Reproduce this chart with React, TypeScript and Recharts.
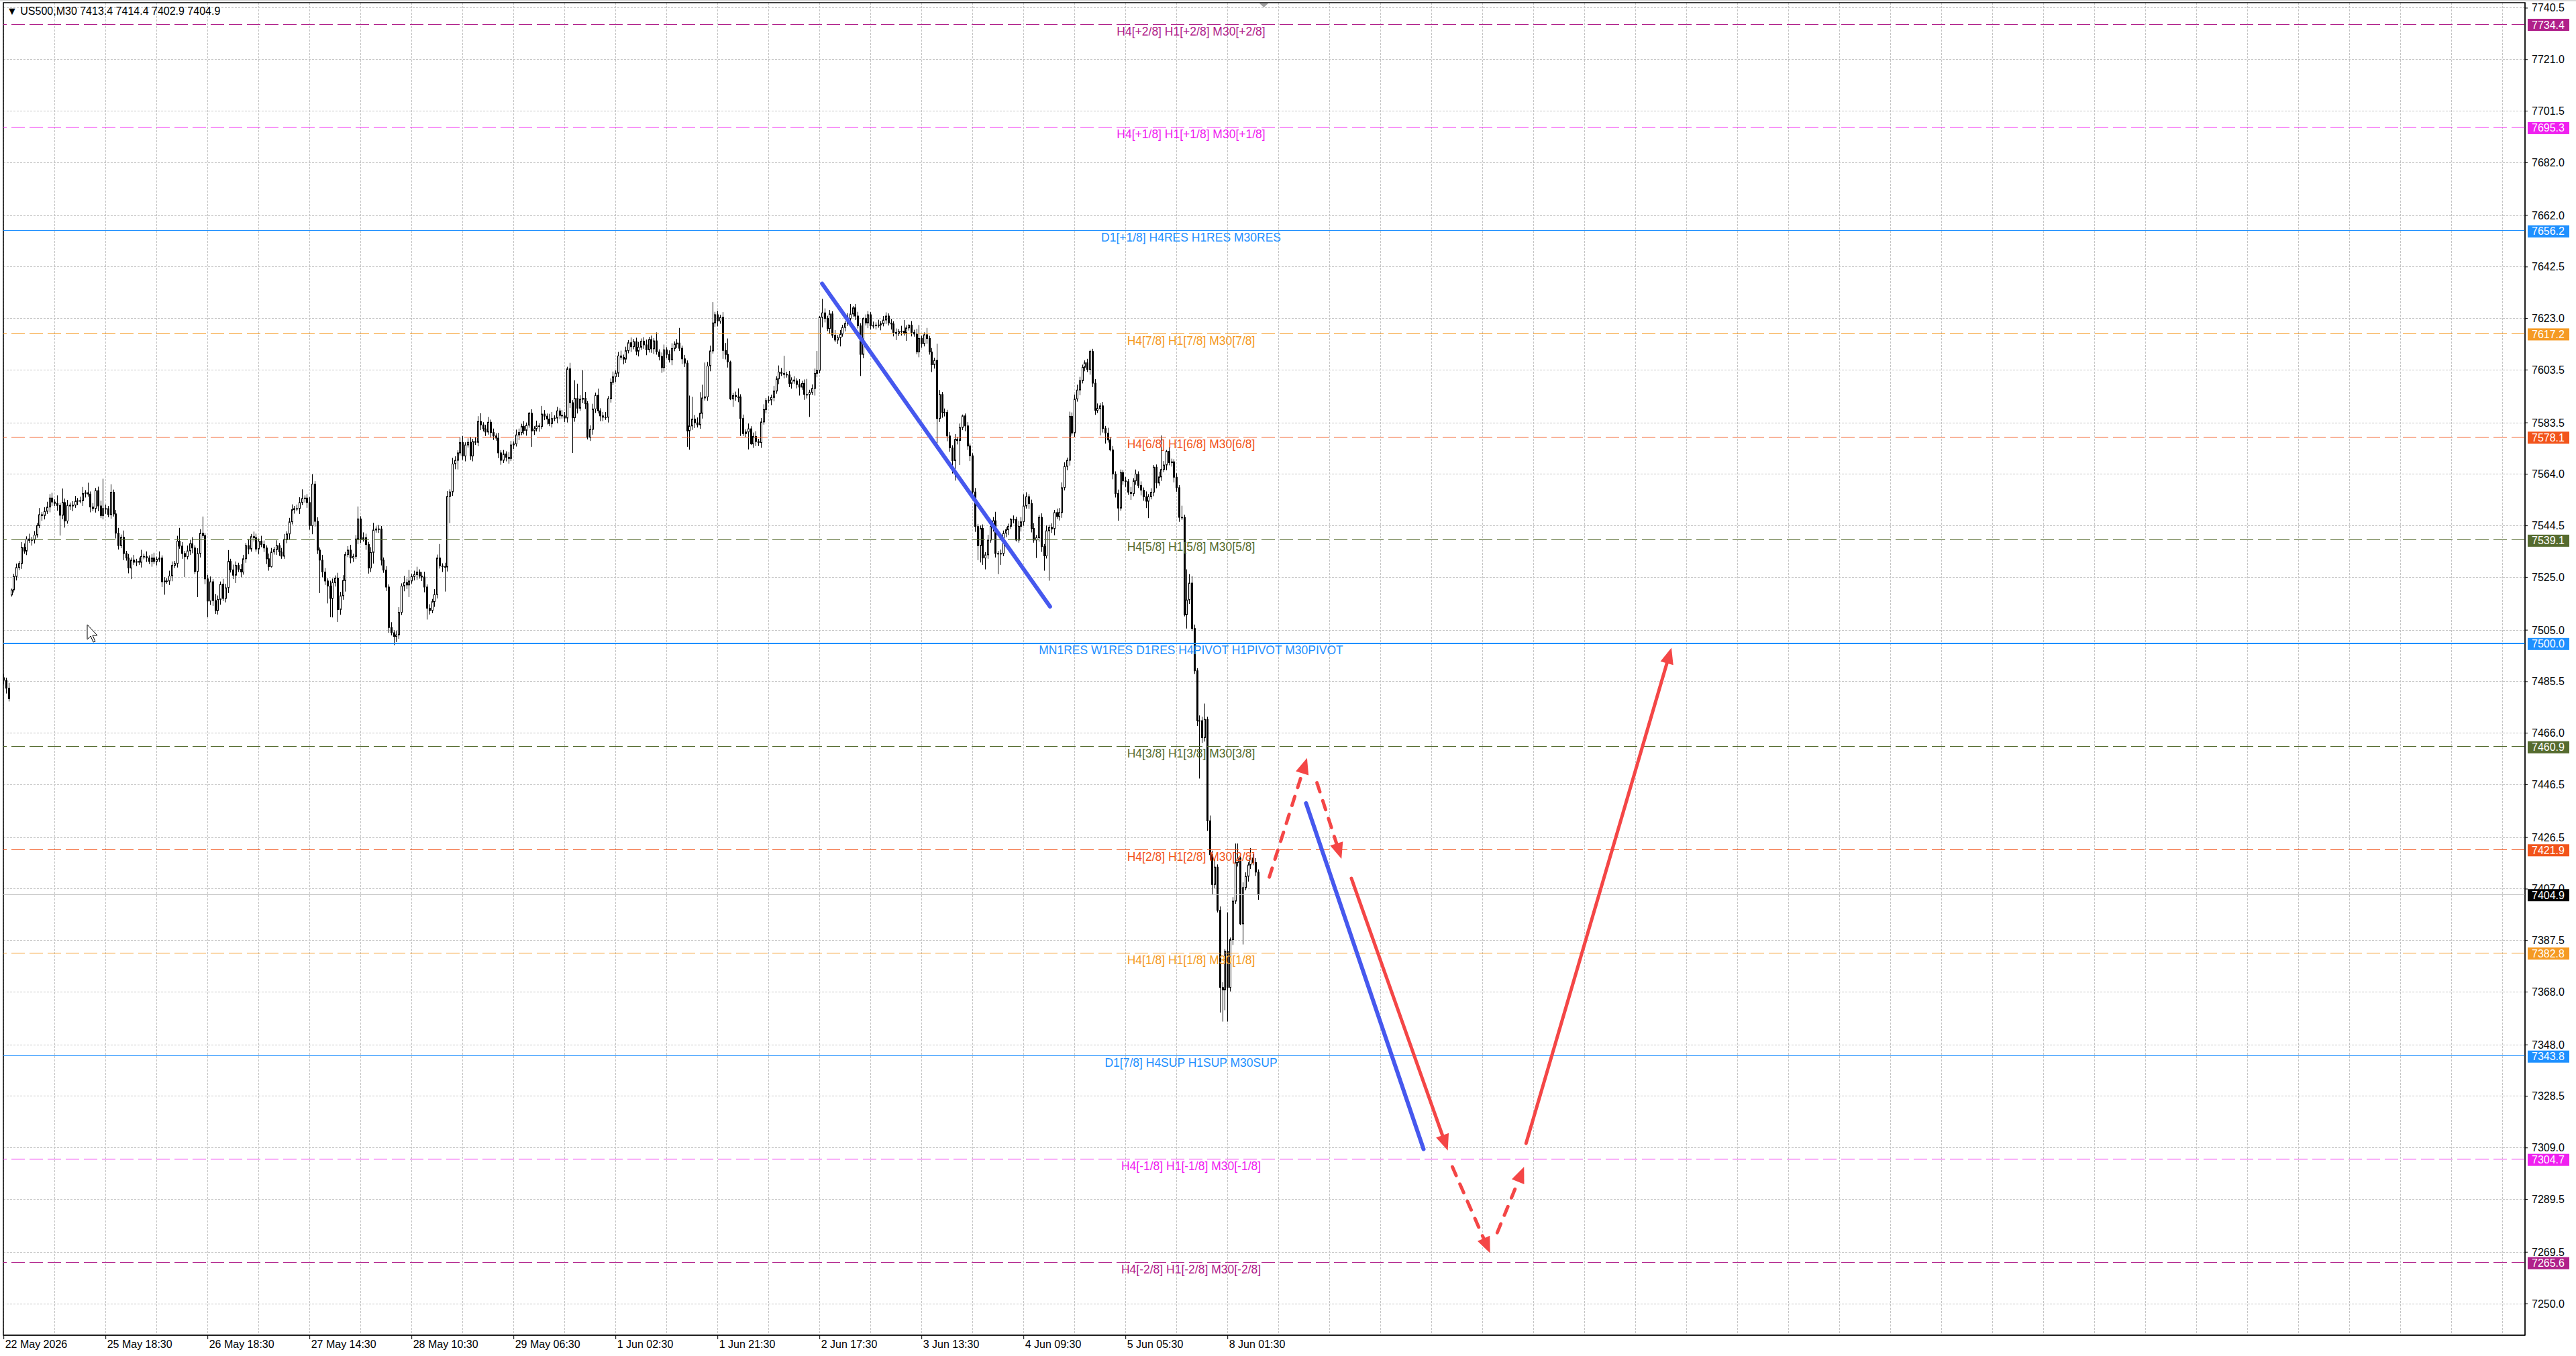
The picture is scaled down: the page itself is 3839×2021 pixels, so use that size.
import {
  Bar,
  CartesianGrid,
  ComposedChart,
  ReferenceArea,
  ReferenceLine,
  XAxis,
  YAxis,
} from "recharts";

const WIDTH = 3839;
const HEIGHT = 2021;
const FONT = "'Liberation Sans', Arial, 'DejaVu Sans', sans-serif";

// US500 M30 closes, one per bar, oldest first
const CLOSE = [
  7486, 7483, 7479, 7520.2, 7525.3, 7528.7, 7530.2, 7536.3, 7534.9, 7539.5,
  7539, 7539.3, 7541, 7544.6, 7548.7, 7548.4, 7550, 7551.6, 7555, 7553.5,
  7553, 7552.2, 7548.5, 7553.3, 7546.3, 7552.3, 7552, 7552.3, 7553.8, 7554,
  7554, 7556.7, 7557, 7556.5, 7551.6, 7551, 7557.8, 7552, 7548.4, 7551,
  7551, 7548.7, 7557.2, 7549, 7541.7, 7537, 7540.2, 7534, 7532.3, 7528.5,
  7531.5, 7530.7, 7531, 7530.7, 7532.9, 7532.8, 7532.3, 7531, 7532.3, 7531,
  7531.8, 7532.3, 7523.3, 7523.6, 7523.6, 7525.5, 7529.5, 7530.2, 7538.7, 7536.8,
  7534, 7532.8, 7535, 7537.7, 7536.1, 7527.2, 7534, 7541.7, 7540.8, 7524.4,
  7516, 7523.3, 7516.2, 7512.4, 7516.6, 7522.4, 7517, 7521, 7531, 7527.8,
  7525.8, 7529.5, 7528, 7527, 7532, 7537, 7535.7, 7540.4, 7540, 7535.7,
  7538.7, 7537.4, 7536.1, 7532, 7529, 7534.6, 7535.5, 7537, 7534.6, 7533,
  7539.4, 7541.4, 7546, 7550.6, 7551, 7551, 7553.3, 7554.8, 7555, 7553.3,
  7544.5, 7560.3, 7546.2, 7535.3, 7531.5, 7527, 7523.6, 7521.7, 7517, 7523,
  7524.7, 7512.8, 7518, 7523.8, 7533.6, 7535.3, 7532.3, 7532.9, 7539.5, 7547.1,
  7539.5, 7540, 7537.4, 7528.5, 7534.4, 7542.9, 7543.3, 7543.3, 7531.5, 7527.7,
  7521.3, 7506, 7504, 7502.6, 7503.2, 7511.7, 7521.7, 7523, 7522.1, 7523.6,
  7525.3, 7526, 7527, 7525.5, 7525.1, 7521.3, 7513.3, 7512.4, 7515.8, 7518.5,
  7532.3, 7529.3, 7529, 7528.9, 7555.6, 7557.3, 7567.9, 7569.3, 7572.1, 7576,
  7570.9, 7575.1, 7576.1, 7570.9, 7576.4, 7576.1, 7584, 7582.7, 7581.2, 7580,
  7583.7, 7579.8, 7578.5, 7577.7, 7572.1, 7569.3, 7571.7, 7570.4, 7570, 7575.1,
  7575.5, 7578.9, 7579.8, 7582.1, 7580.6, 7582.6, 7587.1, 7580.4, 7581.2, 7582.3,
  7582.1, 7586.8, 7586, 7584.9, 7583.2, 7585.1, 7585.3, 7588, 7586.3, 7586.1,
  7585.3, 7603.9, 7591.1, 7585.4, 7592.7, 7589, 7592.4, 7592.8, 7590.7, 7578,
  7581, 7588.7, 7593.9, 7588, 7586.1, 7585.6, 7585.6, 7592.6, 7598.8, 7600.9,
  7602.3, 7608.8, 7608.3, 7607.6, 7610.8, 7613.8, 7612.3, 7614.2, 7610.6, 7612.1,
  7614.4, 7613, 7611.1, 7615, 7611.5, 7614.5, 7610.3, 7608.6, 7604.4, 7611.1,
  7609.4, 7607.3, 7611.6, 7613.3, 7613.7, 7611.7, 7607.7, 7606.1, 7580.4, 7582.3,
  7584.9, 7583.5, 7582.7, 7587.1, 7592.9, 7593.3, 7605, 7610.7, 7621.3, 7624.4,
  7622, 7623.4, 7610.9, 7609.4, 7606.5, 7592.5, 7593.8, 7593.3, 7593.3, 7585.1,
  7579.4, 7580, 7581.2, 7575.5, 7578.3, 7576.4, 7576, 7583.8, 7588.5, 7591.9,
  7592.1, 7593.1, 7595.5, 7600.1, 7602.7, 7602.2, 7601.8, 7601.6, 7598.4, 7599.7,
  7599.3, 7598, 7597, 7598.4, 7594.2, 7594.2, 7595, 7596.5, 7602.2, 7603.3,
  7623.4, 7625.1, 7623, 7619.2, 7624.7, 7616.6, 7614.8, 7615.7, 7617.1, 7619.6,
  7621.1, 7623, 7624.7, 7627, 7623.9, 7620.2, 7609.4, 7623, 7621.3, 7624.4,
  7620.2, 7620.3, 7620.5, 7620.5, 7621, 7622.4, 7623.9, 7621.3, 7620.9, 7617.7,
  7617.3, 7618, 7618.2, 7617.5, 7619.4, 7620.5, 7617.7, 7617.1, 7610.3, 7615.4,
  7613.4, 7616.8, 7615.4, 7610.3, 7605.5, 7607.1, 7585.1, 7594.2, 7587.4, 7587.4,
  7578.5, 7574, 7569.2, 7577.2, 7576.8, 7581.7, 7586.1, 7582.3, 7574.7, 7571,
  7557.3, 7544.2, 7537, 7543.5, 7532.3, 7533.5, 7539.1, 7544.3, 7546.4, 7534,
  7534, 7534, 7541.7, 7543, 7544.3, 7546.9, 7546.9, 7539.1, 7544.3, 7546,
  7552, 7555.5, 7552.9, 7543.5, 7539.1, 7540, 7547.7, 7536.6, 7533.1, 7542.6,
  7543.9, 7543.3, 7549.5, 7548, 7549.5, 7558.9, 7567, 7569.3, 7585.9, 7579.6,
  7592.5, 7595.9, 7599.4, 7604.5, 7606.2, 7603.7, 7610.5, 7598.5, 7588.2, 7588.9,
  7589.9, 7581.3, 7579.6, 7577, 7573.2, 7564.1, 7556.7, 7551.2, 7564.6, 7561.5,
  7561.2, 7557.2, 7556.7, 7561.5, 7564.1, 7559.8, 7558, 7555.5, 7553.8, 7555.5,
  7557.2, 7566.7, 7560.7, 7563, 7565.8, 7567.5, 7572.7, 7568.4, 7568.7, 7562.9,
  7558.9, 7547.7, 7547.7, 7510.8, 7516.4, 7522.8, 7505.6, 7489.6, 7470.7, 7470.7,
  7464.3, 7471.2, 7432.8, 7420, 7408.7, 7415.3, 7398.9, 7369.7, 7368.8, 7383.5,
  7369.7, 7387.8, 7402.4, 7417, 7418.7, 7393.8, 7407.5, 7411.8, 7416.1, 7418.7,
  7417, 7413.4, 7404.9,
];

// wick length above the body, in points
const WICK_UP = [
  1.5, 1, 2, 0.5, 1, 1.5, 1, 2, 1.5, 1,
  2, 1, 1.5, 1, 2.5, 1, 1.5, 2, 1.5, 2,
  1, 3, 1, 5.3, 1.5, 2, 1, 1.5, 2, 1,
  1.5, 2.5, 1, 3.8, 1, 1.5, 1, 1.5, 2, 11.3,
  1.5, 1, 3, 1, 1.5, 2, 1, 2.5, 1, 1.5,
  1, 2, 1, 1.5, 2.5, 1, 2, 1, 1.5, 2,
  1, 2.5, 1, 1.5, 1, 2, 1.5, 1, 2, 5,
  1.5, 1, 2, 1.5, 2.5, 1, 2, 1.5, 6.3, 1,
  1.5, 2, 1, 2.5, 1.5, 1, 2, 1.5, 4.3, 1,
  2, 1.5, 1, 2, 1.5, 1, 2.5, 1, 1.9, 1.5,
  1, 2, 1.5, 1, 2, 1.5, 1, 2, 1, 1.5,
  2, 1, 1.5, 2, 1, 1.5, 2, 3.5, 1, 1.5,
  2, 3.7, 1.1, 1.5, 1, 2, 1.5, 1, 2, 1.5,
  1, 2, 1.5, 2, 1, 1.5, 2, 1, 1.5, 4.7,
  1, 2, 1.5, 1, 2, 2.7, 1, 1.5, 1.1, 1,
  1.5, 1, 2, 1, 1.5, 2, 1, 2.5, 1.5, 4.2,
  1, 1.5, 2, 1, 1.5, 2, 1, 1.5, 1, 2,
  1.3, 5.3, 1, 1.5, 2, 1, 2.3, 1.5, 1, 2,
  2.5, 1, 1.5, 2, 1, 1.5, 2, 3.1, 1, 1.5,
  2, 1, 1.5, 1, 2, 1, 1.5, 1, 2, 1.5,
  1, 2, 1.5, 1, 2, 1, 0.5, 1.5, 1, 2,
  1, 3.1, 1.5, 1, 2, 2.5, 1, 1.5, 1, 2,
  1.5, 0.8, 2.3, 1, 6.9, 5.6, 1.5, 10.6, 2.4, 1,
  1.5, 2, 1, 2.5, 1, 1.5, 2, 1, 1.5, 2,
  1, 1.5, 2, 1, 1.5, 1, 2, 1, 1.5, 2,
  1, 1.5, 2, 1, 1.5, 1, 3.2, 1, 1.5, 2,
  1, 1.5, 2, 1, 1.5, 5.7, 1, 1.5, 1, 11.5,
  8.4, 1.5, 2, 8, 5, 13, 1.5, 2, 7.9, 1.1,
  1.5, 1, 2, 2.8, 6, 0.5, 1, 1.5, 3.2, 1,
  1.5, 1, 2, 1, 1.5, 2, 1, 1.5, 2, 1,
  1.5, 1, 2, 1, 2.5, 1.5, 6.6, 1, 1.5, 1,
  1.4, 1, 2, 1, 1.5, 5.9, 1, 1.5, 1.8, 7.4,
  0.5, 5.3, 1.7, 1, 1.5, 1, 2, 1, 1.5, 1,
  1, 2, 3.8, 0.7, 1.5, 1.6, 1, 0.3, 1.5, 1.4,
  1, 1.5, 1, 2, 1, 1.5, 1.4, 1, 1.5, 1,
  1.5, 1, 2, 4.2, 1, 0.2, 1.5, 1, 2, 5.1,
  1, 0.9, 2.6, 1, 1.5, 1, 6.3, 1.7, 1, 1.5,
  1, 1.5, 1, 2, 1, 1.5, 0.5, 0.9, 1.5, 1,
  1, 1.5, 1, 1.1, 1.5, 1, 2, 1, 1.4, 3.4,
  1, 1.5, 1, 1, 1, 0.5, 1.5, 1, 2, 1.8,
  4.4, 1.7, 1, 1.5, 2, 1, 0.9, 1.5, 1, 2,
  1, 1.5, 1, 1.5, 1.7, 2, 1.5, 1, 1.8, 1.5,
  1.7, 2, 1.5, 1, 0.9, 1.5, 0.6, 1, 1.5, 1.9,
  1, 1.5, 1, 2, 1, 1.5, 1, 1.5, 1.2, 1,
  1.5, 1, 2, 1, 1.7, 1, 1.5, 1, 2, 1,
  1.5, 0.8, 1, 2, 12.9, 1.5, 0.5, 1.5, 1.2, 1,
  1.5, 1, 4.4, 1, 11.6, 3.4, 2.6, 1.5, 1, 2,
  1.5, 6, 1, 2, 1.5, 3, 1, 1.5, 2, 0.8,
  14.6, 0.8, 1.5, 7.2, 5.5, 1, 2, 1.5, 1, 3.8,
  1.5, 1.7, 1.0,
];

// wick length below the body, in points
const WICK_DOWN = [
  1.5, 2, 1, 0.6, 1, 1.5, 1, 2, 1, 1.5,
  1, 2, 1.5, 1, 1, 2, 1.5, 1, 2, 1.5,
  1, 2, 7.7, 1.5, 2.5, 1, 1.5, 2, 1, 1.5,
  1, 2, 1.5, 1, 2, 1, 1.5, 2, 1, 1.5,
  2, 1, 1.5, 1, 2, 1.5, 1, 2.5, 1, 2,
  4.2, 1, 1.5, 1, 2, 1, 1.5, 1, 2, 1,
  1.5, 1, 2, 4.9, 1, 1.5, 2, 1, 1.5, 1,
  2, 7.7, 1, 1.5, 2, 1, 9.7, 1.5, 1, 2,
  6.1, 1.5, 2, 1.3, 1.5, 2, 1, 1.5, 2, 1,
  1.5, 3, 1, 2, 1, 1.5, 2, 1, 1.5, 1,
  2, 1, 1.5, 2, 1.5, 0.3, 1, 2, 1.5, 1,
  1, 1.5, 2, 1, 1.5, 1, 2, 1, 1.5, 2,
  1.5, 3.2, 2, 1.5, 12.5, 2, 1.5, 6.6, 7.1, 7.2,
  1.5, 4.7, 2, 1.5, 4.2, 1, 2, 1.5, 1, 2,
  1.5, 1, 2, 2.1, 1.5, 4.2, 1, 1.5, 2, 1,
  1.5, 2, 1, 3.3, 2.1, 1.5, 1, 2, 1.5, 4.6,
  1, 1.5, 2, 1, 1.5, 2, 4.3, 1.5, 1, 2,
  1.5, 1, 2, 9.3, 1.7, 10.1, 1.5, 2, 3.5, 1,
  1.5, 2, 1, 1.5, 2, 1, 1.5, 2, 1, 1.5,
  1, 2, 1.5, 1, 2, 1.7, 1, 1.5, 2, 1,
  1.5, 1, 2, 1, 1.5, 2, 1, 6, 1.5, 1,
  2, 1, 1.5, 2, 1, 1.5, 1, 2, 1.5, 1,
  1.5, 1.7, 2, 13.3, 1.5, 2, 1, 1.5, 2, 0.8,
  1.4, 2, 1.5, 1, 2, 1.5, 1, 2, 1.5, 1,
  2, 1.5, 1, 2, 1.5, 1, 2, 1, 1.5, 2,
  1, 1.5, 2, 1, 1.5, 2, 1, 1.5, 2, 1.5,
  1.5, 1, 2, 1, 1.5, 1, 2, 1.5, 6, 7.1,
  1.5, 2, 1, 1.5, 2, 1, 1.5, 2, 1, 1.5,
  2, 1, 3.2, 1.9, 2.1, 0.4, 3, 1.5, 2, 6.6,
  0.9, 1.5, 6.6, 0.4, 1.5, 1.7, 1.3, 2, 1, 1.5,
  1, 2, 1.5, 1, 2, 1, 1.5, 1, 1.4, 2,
  1, 1.5, 3.2, 1, 2, 1.5, 8.5, 1, 2.7, 1.5,
  1, 3.8, 1.5, 1, 2, 1, 0.8, 1.5, 3.3, 1,
  1.5, 1, 2, 1, 1.5, 1, 8.2, 1.5, 1, 2,
  1.4, 1, 1.5, 1, 2, 1, 1.5, 1, 2.1, 1.5,
  2.5, 1, 1.5, 1, 3, 1, 1.5, 1, 0.9, 2,
  1.5, 1, 2, 1, 2.8, 1.5, 9.6, 1.3, 2, 1.5,
  2, 1.5, 4.9, 7.6, 1.5, 9.3, 1, 2, 1.5, 2,
  1.5, 2, 5.5, 6.4, 2.6, 4.3, 1.5, 1, 2, 1.5,
  7.8, 4.3, 1, 1.5, 2, 1, 1.5, 0.5, 1, 2,
  1.5, 1, 2, 1.5, 1, 6.8, 1.5, 2, 5.6, 1,
  18.9, 1.5, 2.4, 1, 1.5, 2, 1, 1.5, 2, 1,
  1.5, 1, 2, 1, 1.5, 1, 2, 1.5, 1.7, 1,
  10.2, 1.5, 4, 1, 0.5, 2, 1.5, 4.8, 1, 1.5,
  2, 1, 2.4, 1, 1.5, 1, 2, 1.5, 2.6, 6.4,
  1, 1.5, 2, 1, 1.5, 1, 2, 1, 1.5, 2,
  1.5, 1.7, 1, 0.6, 5.2, 1.5, 0.9, 1.2, 2, 21.9,
  2, 1.5, 3.8, 2, 3.7, 1.5, 0.8, 9.5, 12, 7.7,
  12.9, 1.5, 2, 1, 1.5, 0.5, 7.8, 1, 2, 1.5,
  1, 1.5, 2,
];

// bars whose open is not the previous close (session gaps)
const GAP_OPEN: Record<number, number> = { 0: 7487, 3: 7518.3 };

const HEADER = "\u25BC US500,M30  7413.4 7414.4 7402.9 7404.9";
const BID = 7404.9;

const X_TICK_BARS = [0, 40, 80, 120, 160, 200, 240, 280, 320, 360, 400, 440, 480];
const X_TICK_LABELS = [
  "22 May 2026",
  "25 May 18:30",
  "26 May 18:30",
  "27 May 14:30",
  "28 May 10:30",
  "29 May 06:30",
  "1 Jun 02:30",
  "1 Jun 21:30",
  "2 Jun 17:30",
  "3 Jun 13:30",
  "4 Jun 09:30",
  "5 Jun 05:30",
  "8 Jun 01:30",
];
const GRID_BARS = [
  0, 20, 40, 60, 80, 100, 120, 140, 160, 180, 200, 220, 240, 260, 280, 300, 320, 340,
  360, 380, 400, 420, 440, 460, 480, 500, 520, 540, 560, 580, 600, 620, 640, 660, 680,
  700, 720, 740, 760, 780, 800, 820, 840, 860, 880, 900, 920, 940, 960, 980,
];
const PRICE_TICKS = [
  7740.5, 7721.0, 7701.5, 7682.0, 7662.0, 7642.5, 7623.0, 7603.5, 7583.5, 7564.0, 7544.5,
  7525.0, 7505.0, 7485.5, 7466.0, 7446.5, 7426.5, 7407.0, 7387.5, 7368.0, 7348.0, 7328.5,
  7309.0, 7289.5, 7269.5, 7250.0,
];

// Murrey math levels drawn on the chart
const LEVEL_PRICES = [
  7734.4, 7695.3, 7656.2, 7617.2, 7578.1, 7539.1, 7500.0, 7460.9, 7421.9, 7382.8, 7343.8,
  7304.7, 7265.6,
];
const LEVEL_NAMES = [
  "H4[+2/8] H1[+2/8] M30[+2/8]",
  "H4[+1/8] H1[+1/8] M30[+1/8]",
  "D1[+1/8] H4RES H1RES M30RES",
  "H4[7/8] H1[7/8] M30[7/8]",
  "H4[6/8] H1[6/8] M30[6/8]",
  "H4[5/8] H1[5/8] M30[5/8]",
  "MN1RES W1RES D1RES H4PIVOT H1PIVOT M30PIVOT",
  "H4[3/8] H1[3/8] M30[3/8]",
  "H4[2/8] H1[2/8] M30[2/8]",
  "H4[1/8] H1[1/8] M30[1/8]",
  "D1[7/8] H4SUP H1SUP M30SUP",
  "H4[-1/8] H1[-1/8] M30[-1/8]",
  "H4[-2/8] H1[-2/8] M30[-2/8]",
];

// hand-drawn trend lines (bar index, price)
const TREND_FROM_BAR = [320.9, 510.7];
const TREND_FROM_PRICE = [7636.2, 7439.5];
const TREND_TO_BAR = [410.3, 556.8];
const TREND_TO_PRICE = [7513.9, 7308.5];

// projected path arrows; main legs are solid, minor legs dashed
const LEG_FROM_BAR = [496.3, 515.0, 528.5, 568.1, 585.7, 597.0];
const LEG_FROM_PRICE = [7411.5, 7447.2, 7411.0, 7301.8, 7276.9, 7310.7];
const LEG_TO_BAR = [511.1, 524.6, 566.3, 582.9, 596.2, 654.0];
const LEG_TO_PRICE = [7456.6, 7418.4, 7308.0, 7269.1, 7301.8, 7498.3];
const LEG_MAIN = [false, false, true, false, false, true];

const X_DOMAIN: [number, number] = [-0.18, 988.76];
const Y_DOMAIN: [number, number] = [7238.07, 7742.53];

const RED = "#f44646";
const BLUE = "#4658ee";

const rows = CLOSE.map((c, i) => {
  const o = GAP_OPEN[i] ?? CLOSE[i - 1];
  const hi = Math.max(o, c) + WICK_UP[i];
  const lo = Math.min(o, c) - WICK_DOWN[i];
  return { i, o, c, hi, lo, range: [lo, hi] };
});

function levelStyle(name: string) {
  if (name.includes("PIVOT")) return { color: "#1e90ff", width: 2, dash: undefined };
  if (name.includes("RES") || name.includes("SUP"))
    return { color: "#1e90ff", width: 1, dash: undefined };
  const m = name.match(/\[([+-]?\d)\/8\]/);
  const key = m ? m[1] : "";
  const palette: Record<string, string> = {
    "+2": "#b0208a",
    "-2": "#b0208a",
    "+1": "#f020f0",
    "-1": "#f020f0",
    "7": "#f59a23",
    "1": "#f59a23",
    "6": "#f2541b",
    "2": "#f2541b",
    "5": "#556b2f",
    "3": "#556b2f",
  };
  return { color: palette[key] ?? "#888", width: 1, dash: "20 7" };
}

function Candle(props: any) {
  const { x, y, width, height, payload } = props;
  if (!payload || !Number.isFinite(x) || !Number.isFinite(y)) return null;
  const cx = Math.round(x + width / 2) + 0.5;
  const top = Math.min(y, y + height);
  const bot = Math.max(y, y + height);
  const k = (bot - top) / (payload.hi - payload.lo);
  const yOf = (v: number) => top + (payload.hi - v) * k;
  const yo = yOf(payload.o);
  const yc = yOf(payload.c);
  const bull = payload.c >= payload.o;
  const bt = Math.min(yo, yc);
  const bb = Math.max(yo, yc);
  return (
    <g>
      <line x1={cx} x2={cx} y1={top} y2={bot} stroke="#000" strokeWidth={1} />
      <rect
        x={cx - 1}
        y={bt}
        width={2}
        height={Math.max(bb - bt, 0.8)}
        fill={bull ? "#fff" : "#000"}
        stroke="#000"
        strokeWidth={1}
      />
    </g>
  );
}

function PriceTick(props: any) {
  const { x, y, payload } = props;
  const v: number = payload.value;
  const li = LEVEL_PRICES.indexOf(v);
  if (li >= 0 || v === BID) {
    const color = v === BID ? "#000" : levelStyle(LEVEL_NAMES[li]).color;
    return (
      <g>
        <rect x={x + 4} y={y - 8} width={62} height={18} fill={color} />
        <text x={x + 10} y={y + 6.5} fill="#fff" fontSize={16} fontFamily={FONT}>
          {v.toFixed(1)}
        </text>
      </g>
    );
  }
  return (
    <g>
      <line x1={x} x2={x + 4} y1={y} y2={y} stroke="#000" />
      <text x={x + 10} y={y + 5.5} fill="#000" fontSize={16} fontFamily={FONT}>
        {v.toFixed(1)}
      </text>
    </g>
  );
}

function TimeTick(props: any) {
  const { x, y, payload } = props;
  const idx = X_TICK_BARS.indexOf(payload.value);
  return (
    <g>
      <line x1={x} x2={x} y1={y} y2={y + 6} stroke="#000" />
      <text x={x + 2} y={y + 19} fill="#000" fontSize={16} fontFamily={FONT}>
        {X_TICK_LABELS[idx]}
      </text>
    </g>
  );
}

function LevelLabel({ viewBox, text, color }: any) {
  if (!viewBox) return null;
  return (
    <text
      x={viewBox.x + viewBox.width * 0.471}
      y={viewBox.y + 16.5}
      textAnchor="middle"
      fill={color}
      fontSize={17.5}
      fontFamily={FONT}
    >
      {text}
    </text>
  );
}

function TrendShape(props: any) {
  const { x1, y1, x2, y2 } = props;
  return (
    <line x1={x1} y1={y1} x2={x2} y2={y2} stroke={BLUE} strokeWidth={6} strokeLinecap="round" />
  );
}

function LegShape(props: any) {
  const { x1, y1, x2, y2, main } = props;
  const dx = x2 - x1;
  const dy = y2 - y1;
  const len = Math.hypot(dx, dy) || 1;
  const ux = dx / len;
  const uy = dy / len;
  const headLen = 24;
  const half = 10;
  const bx = x2 - ux * headLen;
  const by = y2 - uy * headLen;
  return (
    <g>
      <line
        x1={x1}
        y1={y1}
        x2={bx + ux * 2}
        y2={by + uy * 2}
        stroke={RED}
        strokeWidth={5}
        strokeLinecap="round"
        strokeDasharray={main ? undefined : "14 14"}
      />
      <polygon
        points={`${x2},${y2} ${bx - uy * half},${by + ux * half} ${bx + uy * half},${by - ux * half}`}
        fill={RED}
      />
    </g>
  );
}

export default function App() {
  return (
    <div style={{ position: "fixed", left: 0, top: 0, width: WIDTH, height: HEIGHT, background: "#fff" }}>
      <ComposedChart
        width={WIDTH}
        height={HEIGHT}
        data={rows}
        margin={{ top: 4, right: 0, bottom: 0, left: 5 }}
      >
        <CartesianGrid
          stroke="#c4c4c4"
          strokeDasharray="3 2"
          shapeRendering="crispEdges"
          horizontalValues={PRICE_TICKS}
          verticalValues={GRID_BARS}
        />
        <XAxis
          type="number"
          dataKey="i"
          domain={X_DOMAIN}
          allowDataOverflow
          ticks={X_TICK_BARS}
          interval={0}
          tick={<TimeTick />}
          tickLine={false}
          tickSize={0}
          tickMargin={0}
          height={31}
          axisLine={{ stroke: "#000" }}
        />
        <YAxis
          type="number"
          orientation="right"
          domain={Y_DOMAIN}
          allowDataOverflow
          ticks={[...PRICE_TICKS, BID, ...LEVEL_PRICES]}
          interval={0}
          tick={<PriceTick />}
          tickLine={false}
          tickSize={0}
          tickMargin={0}
          width={76}
          axisLine={{ stroke: "#000" }}
        />
        <ReferenceLine y={BID} stroke="#c0c0c0" strokeWidth={1} shapeRendering="crispEdges" />
        {LEVEL_PRICES.map((p, i) => {
          const s = levelStyle(LEVEL_NAMES[i]);
          return (
            <ReferenceLine
              key={p}
              y={p}
              stroke={s.color}
              strokeWidth={s.width}
              strokeDasharray={s.dash}
              shapeRendering="crispEdges"
              label={(lp: any) => <LevelLabel {...lp} text={LEVEL_NAMES[i]} color={s.color} />}
            />
          );
        })}
        <Bar dataKey="range" shape={Candle} barSize={3} isAnimationActive={false} />
        {TREND_FROM_BAR.map((b, i) => (
          <ReferenceLine
            key={`t${i}`}
            ifOverflow="visible"
            segment={[
              { x: b, y: TREND_FROM_PRICE[i] },
              { x: TREND_TO_BAR[i], y: TREND_TO_PRICE[i] },
            ]}
            shape={(p: any) => <TrendShape {...p} />}
          />
        ))}
        {LEG_FROM_BAR.map((b, i) => (
          <ReferenceLine
            key={`l${i}`}
            ifOverflow="visible"
            segment={[
              { x: b, y: LEG_FROM_PRICE[i] },
              { x: LEG_TO_BAR[i], y: LEG_TO_PRICE[i] },
            ]}
            shape={(p: any) => <LegShape {...p} main={LEG_MAIN[i]} />}
          />
        ))}
        <ReferenceArea
          x1={X_DOMAIN[0]}
          x2={X_DOMAIN[1]}
          y1={Y_DOMAIN[0]}
          y2={Y_DOMAIN[1]}
          fill="none"
          fillOpacity={0}
          stroke="#000"
          strokeWidth={1.5}
          ifOverflow="visible"
        />
      </ComposedChart>
      <svg
        width={WIDTH}
        height={HEIGHT}
        style={{ position: "absolute", left: 0, top: 0, pointerEvents: "none" }}
      >
        <rect x={0} y={0} width={WIDTH} height={2} fill="#d8d8d8" />
        <text x={10} y={22} fontSize={16} fontFamily={FONT} fill="#000">
          {HEADER}
        </text>
        {/* chart-shift marker */}
        <polygon points="1877,5 1890,5 1883.5,11" fill="#a0a0a0" />
        {/* mouse pointer left on the chart */}
        <path
          d="M130,931 L130,953 L135,948 L139,957 L142,956 L138,947 L145,947 Z"
          fill="#fff"
          stroke="#000"
          strokeWidth={1}
        />
      </svg>
    </div>
  );
}
